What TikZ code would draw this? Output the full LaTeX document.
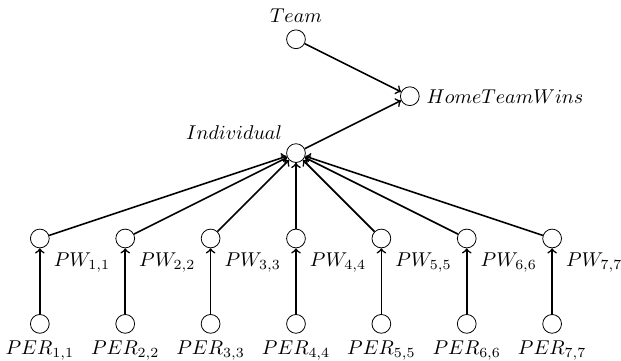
\documentclass[tikz,border=0pt]{standalone}
\usepackage{amsmath}
\usepackage{tikz}
\usetikzlibrary{positioning}

\begin{document}
\begin{tikzpicture}[
    node distance=1.5cm, on grid,
    var/.style={circle, draw, inner sep=0pt, minimum size=3.3mm},
    arrow/.style={->, thick}
]
\useasboundingbox (-5.2,-3.64) rectangle (5.71,2.69);

\node[var, label=above left:$Individual$] (indiv) at (0,0) {};
\node[var, label=above:$Team$, above=2cm of indiv] (team) {};
\node[var, label=right:$HomeTeamWins$, above right=1cm and 2cm of indiv] (htw) {};

\node[var, label=below right:$PW_{4,4}$, below=of indiv] (pw4) {};
\node[var, label=below right:$PW_{3,3}$, left=of pw4] (pw3) {};
\node[var, label=below right:$PW_{2,2}$, left=of pw3] (pw2) {};
\node[var, label=below right:$PW_{1,1}$, left=of pw2] (pw1) {};
\node[var, label=below right:$PW_{5,5}$, right=of pw4] (pw5) {};
\node[var, label=below right:$PW_{6,6}$, right=of pw5] (pw6) {};
\node[var, label=below right:$PW_{7,7}$, right=of pw6] (pw7) {};

\node[var, label=below:$PER_{1,1}$, below=of pw1] (per1) {};
\node[var, label=below:$PER_{2,2}$, below=of pw2] (per2) {};
\node[var, label=below:$PER_{3,3}$, below=of pw3] (per3) {};
\node[var, label=below:$PER_{4,4}$, below=of pw4] (per4) {};
\node[var, label=below:$PER_{5,5}$, below=of pw5] (per5) {};
\node[var, label=below:$PER_{6,6}$, below=of pw6] (per6) {};
\node[var, label=below:$PER_{7,7}$, below=of pw7] (per7) {};

\draw[arrow] (team) -- (htw);
\draw[arrow] (indiv) -- (htw);

\draw[arrow] (pw1) -- (indiv);
\draw[arrow] (pw2) -- (indiv);
\draw[arrow] (pw3) -- (indiv);
\draw[arrow] (pw4) -- (indiv);
\draw[arrow] (pw5) -- (indiv);
\draw[arrow] (pw6) -- (indiv);
\draw[arrow] (pw7) -- (indiv);

\draw[arrow] (per1) -- (pw1);
\draw[arrow] (per2) -- (pw2);
\draw[arrow] (per3) -- (pw3);
\draw[arrow] (per4) -- (pw4);
\draw[arrow] (per5) -- (pw5);
\draw[arrow] (per6) -- (pw6);
\draw[arrow] (per7) -- (pw7);
\end{tikzpicture}
\end{document}
